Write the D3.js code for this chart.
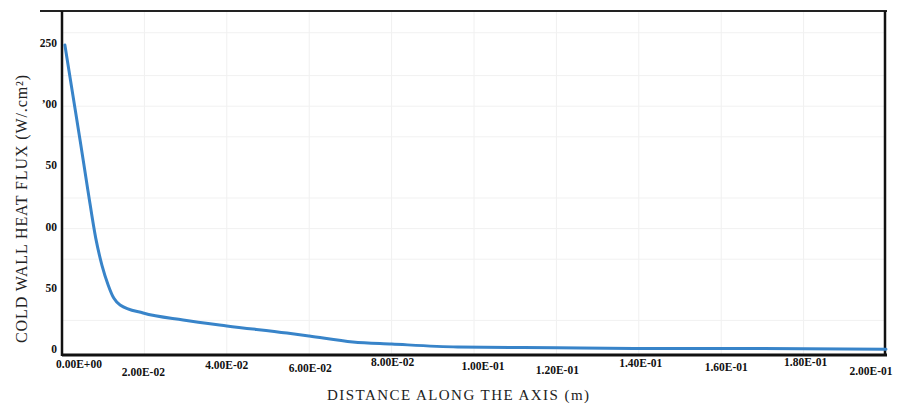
<!DOCTYPE html>
<html>
<head>
<meta charset="utf-8">
<script src="https://cdn.jsdelivr.net/npm/d3@7"></script>
<style>
  body { margin: 0; background: #fff; }
  .canvas svg { display: block; }
  .tick-lbl { font-family: "Liberation Serif", "Times New Roman", serif; font-weight: 700; font-size: 11.5px; fill: #111; }
  .title { font-family: "Liberation Serif", "Times New Roman", serif; font-size: 16px; fill: #222; }
</style>
</head>
<body>
<div class="canvas"></div>
<script>
// data
const distance = [0.0007, 0.0024, 0.0044, 0.0063, 0.0082, 0.0097, 0.0112, 0.0126, 0.0141, 0.0197, 0.0294, 0.040, 0.0546, 0.060, 0.0706, 0.080, 0.096, 0.12, 0.14, 0.17, 0.2];
const heatFlux = [250, 214, 172, 131, 92, 70, 54, 43, 37.6, 31, 25.3, 20.5, 14.7, 12.3, 7.4, 5.7, 3.3, 2.6, 2.0, 2.0, 1.5];
const xTicks = [0, 0.02, 0.04, 0.06, 0.08, 0.10, 0.12, 0.14, 0.16, 0.18, 0.20];
const xTickLabels = ['0.00E+00', '2.00E-02', '4.00E-02', '6.00E-02', '8.00E-02', '1.00E-01', '1.20E-01', '1.40E-01', '1.60E-01', '1.80E-01', '2.00E-01'];
const yTicks = [0, 50, 100, 150, 200, 250];
const yTickLabels = ['0', '50', '00', '50', '\u201900', '250'];

// scanned-look label jitter
const xLblDx = [17, -1, 0, 1, 1, 9, 1, 2, 5, 2, -15];
const xLblY = [364, 372, 365, 368, 362, 366, 370, 363, 367, 362, 371];

const width = 907, height = 404;
const padL = 62, padR = 886, padT = 11, padB = 355;

const svg = d3.select('.canvas')
    .append('svg')
    .attr('width', width)
    .attr('height', height);

const xScale = d3.scaleLinear().domain([0, 0.2]).range([padL, padR]);
const yScale = d3.scaleLinear().domain([0, 250]).range([351, 45]);

// faint grid
svg.append('g')
    .selectAll('line')
    .data(xTicks.slice(1, -1))
    .enter()
    .append('line')
    .attr('x1', d => xScale(d)).attr('x2', d => xScale(d))
    .attr('y1', padT).attr('y2', padB)
    .attr('stroke', '#f0f0f0').attr('stroke-width', 1);

svg.append('g')
    .selectAll('line')
    .data([25, 75, 100, 125, 175, 200, 225, 260])
    .enter()
    .append('line')
    .attr('x1', padL).attr('x2', padR)
    .attr('y1', d => yScale(d)).attr('y2', d => yScale(d))
    .attr('stroke', '#f1f1f1').attr('stroke-width', 1);

// frame
svg.append('line').attr('x1', 40).attr('x2', padR + 1).attr('y1', padT).attr('y2', padT)
    .attr('stroke', '#222').attr('stroke-width', 2);
svg.append('line').attr('x1', padL).attr('x2', padL).attr('y1', padT).attr('y2', padB + 1)
    .attr('stroke', '#111').attr('stroke-width', 2.5);
svg.append('line').attr('x1', padR - 1).attr('x2', padR - 1).attr('y1', padT).attr('y2', padB + 1)
    .attr('stroke', '#111').attr('stroke-width', 2.5);
svg.append('line').attr('x1', padL).attr('x2', padR + 1).attr('y1', padB).attr('y2', padB)
    .attr('stroke', '#111').attr('stroke-width', 3);

// line
const line = d3.line()
    .x((d, i) => xScale(distance[i]))
    .y(d => yScale(d))
    .curve(d3.curveMonotoneX);

svg.append('path')
    .datum(heatFlux)
    .attr('d', line)
    .attr('fill', 'none')
    .attr('stroke', '#3884c9')
    .attr('stroke-width', 3)
    .attr('stroke-linejoin', 'round')
    .attr('stroke-linecap', 'round');

// y tick labels
svg.append('g')
    .selectAll('text')
    .data(yTicks)
    .enter()
    .append('text')
    .attr('class', 'tick-lbl')
    .attr('x', 57)
    .attr('y', d => yScale(d) - 2)
    .attr('dy', '0.35em')
    .attr('text-anchor', 'end')
    .text((d, i) => yTickLabels[i]);

// x tick labels
svg.append('g')
    .selectAll('text')
    .data(xTicks)
    .enter()
    .append('text')
    .attr('class', 'tick-lbl')
    .attr('x', (d, i) => xScale(d) + xLblDx[i])
    .attr('y', (d, i) => xLblY[i])
    .attr('dy', '0.35em')
    .attr('text-anchor', 'middle')
    .text((d, i) => xTickLabels[i]);

// axis titles
svg.append('text')
    .attr('class', 'title')
    .attr('x', 458)
    .attr('y', 400)
    .attr('text-anchor', 'middle')
    .attr('textLength', 262)
    .attr('lengthAdjust', 'spacing')
    .style('font-size', '15px')
    .text('DISTANCE ALONG THE AXIS (m)');

svg.append('text')
    .attr('class', 'title')
    .attr('transform', 'translate(27, 209) rotate(-90)')
    .attr('text-anchor', 'middle')
    .attr('textLength', 268)
    .attr('lengthAdjust', 'spacing')
    .text('COLD WALL HEAT FLUX (W/.cm²)');
</script>
</body>
</html>
